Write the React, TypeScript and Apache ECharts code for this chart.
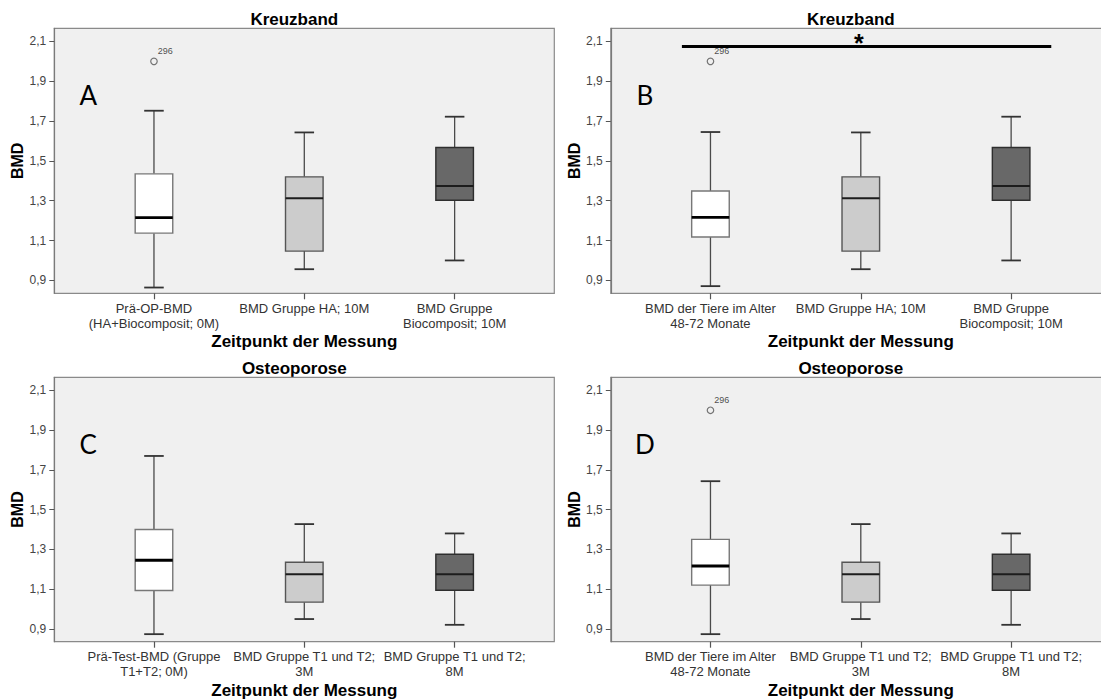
import React, { useEffect, useRef } from "react";
import * as echarts from "echarts";

// ---- data -------------------------------------------------------------
const categoriesA = ["Prä-OP-BMD\n(HA+Biocomposit; 0M)", "BMD Gruppe HA; 10M", "BMD Gruppe\nBiocomposit; 10M"];
const categoriesB = ["BMD der Tiere im Alter\n48-72 Monate", "BMD Gruppe HA; 10M", "BMD Gruppe\nBiocomposit; 10M"];
const categoriesC = ["Prä-Test-BMD (Gruppe\nT1+T2; 0M)", "BMD Gruppe T1 und T2;\n3M", "BMD Gruppe T1 und T2;\n8M"];
const categoriesD = ["BMD der Tiere im Alter\n48-72 Monate", "BMD Gruppe T1 und T2;\n3M", "BMD Gruppe T1 und T2;\n8M"];

// [lower whisker, Q1, median, Q3, upper whisker]
const boxesA = [
  [0.864, 1.137, 1.215, 1.435, 1.752],
  [0.956, 1.047, 1.312, 1.42, 1.643],
  [1.0, 1.302, 1.374, 1.567, 1.722],
];
const boxesB = [
  [0.871, 1.118, 1.216, 1.349, 1.645],
  [0.956, 1.047, 1.312, 1.42, 1.643],
  [1.0, 1.302, 1.374, 1.567, 1.722],
];
const boxesC = [
  [0.873, 1.093, 1.245, 1.4, 1.77],
  [0.949, 1.034, 1.175, 1.235, 1.427],
  [0.92, 1.094, 1.175, 1.275, 1.38],
];
const boxesD = [
  [0.873, 1.12, 1.216, 1.35, 1.643],
  [0.949, 1.034, 1.175, 1.235, 1.427],
  [0.92, 1.094, 1.175, 1.275, 1.38],
];

// [category index, value, case id]
const outliersA: [number, number, string][] = [[0, 2.0, "296"]];
const outliersB: [number, number, string][] = [[0, 2.0, "296"]];
const outliersC: [number, number, string][] = [];
const outliersD: [number, number, string][] = [[0, 2.0, "296"]];

const yTicks = [0.9, 1.1, 1.3, 1.5, 1.7, 1.9, 2.1];
const yMin = 0.835;
const yMax = 2.166;

// significance bracket in panel B: spans first to last group
const sigLevelB = 2.075;
const sigMarkB = "*";

const panelTitles = ["Kreuzband", "Kreuzband", "Osteoporose", "Osteoporose"];
const panelLetters = ["A", "B", "C", "D"];

// ---- layout & styles ---------------------------------------------------
const FONT = '"Liberation Sans", Arial, Helvetica, sans-serif';
const PANEL_W = 500;
const PAD = 24.5;
const COLS = [54.3, 610.8];
const ROWS = [
  { top: 28.3, h: 265 },
  { top: 377.3, h: 264.4 },
];
const boxFill = ["#ffffff", "#cccccc", "#686868"];
const boxStroke = ["#777777", "#555555", "#2e2e2e"];
const medianColor = ["#000000", "#1c1c1c", "#1c1c1c"];
const medianWidth = [2.8, 2, 2];
const whiskerColor = "#4a4a4a";

const panels = [
  { cats: categoriesA, boxes: boxesA, outliers: outliersA, col: 0, row: 0 },
  { cats: categoriesB, boxes: boxesB, outliers: outliersB, col: 1, row: 0 },
  { cats: categoriesC, boxes: boxesC, outliers: outliersC, col: 0, row: 1 },
  { cats: categoriesD, boxes: boxesD, outliers: outliersD, col: 1, row: 1 },
];

function renderBox(params: any, api: any) {
  const cat = api.value(0);
  const lo = api.coord([cat, api.value(1)]);
  const q1 = api.coord([cat, api.value(2)]);
  const med = api.coord([cat, api.value(3)]);
  const q3 = api.coord([cat, api.value(4)]);
  const hi = api.coord([cat, api.value(5)]);
  const band = api.size([1, 0])[0];
  const bw = band * 0.25;
  const cw = band * 0.13;
  const x = lo[0];
  const idx = cat as number;
  const wStyle = { stroke: whiskerColor, lineWidth: 1.3 };
  return {
    type: "group",
    children: [
      { type: "line", shape: { x1: x, y1: hi[1], x2: x, y2: q3[1] }, style: wStyle },
      { type: "line", shape: { x1: x, y1: q1[1], x2: x, y2: lo[1] }, style: wStyle },
      { type: "line", shape: { x1: x - cw / 2, y1: hi[1], x2: x + cw / 2, y2: hi[1] }, style: { stroke: "#333", lineWidth: 1.8 } },
      { type: "line", shape: { x1: x - cw / 2, y1: lo[1], x2: x + cw / 2, y2: lo[1] }, style: { stroke: "#333", lineWidth: 1.8 } },
      {
        type: "rect",
        shape: { x: x - bw / 2, y: q3[1], width: bw, height: q1[1] - q3[1] },
        style: { fill: boxFill[idx], stroke: boxStroke[idx], lineWidth: 1.4 },
      },
      {
        type: "line",
        shape: { x1: x - bw / 2, y1: med[1], x2: x + bw / 2, y2: med[1] },
        style: { stroke: medianColor[idx], lineWidth: medianWidth[idx] },
      },
    ],
  };
}

function renderSignificance(params: any, api: any) {
  const v = api.value(1);
  const c0 = api.coord([0, v]);
  const c1 = api.coord([1, v]);
  const c2 = api.coord([2, v]);
  const band = api.size([1, 0])[0];
  return {
    type: "group",
    children: [
      {
        type: "line",
        shape: { x1: c0[0] - band * 0.19, y1: c0[1], x2: c2[0] + band * 0.267, y2: c2[1] },
        style: { stroke: "#000", lineWidth: 3 },
      },
      {
        type: "text",
        x: c1[0] - 2,
        y: c1[1] - 3.5,
        style: {
          text: sigMarkB,
          font: `bold 25px ${FONT}`,
          fill: "#000",
          align: "center",
          verticalAlign: "middle",
          textAlign: "center",
          textVerticalAlign: "middle",
        },
      },
    ],
  };
}

export default function App() {
  const ref = useRef<HTMLDivElement>(null);

  useEffect(() => {
    if (!ref.current) return;
    const chart = echarts.init(ref.current, undefined, { renderer: "svg" });

    const grids: any[] = [];
    const xAxes: any[] = [];
    const yAxes: any[] = [];
    const series: any[] = [];
    const graphics: any[] = [];

    panels.forEach((p, i) => {
      const left = COLS[p.col];
      const row = ROWS[p.row];
      grids.push({ left: left + PAD, top: row.top, width: PANEL_W - 2 * PAD, height: row.h, containLabel: false });

      xAxes.push({
        gridIndex: i,
        type: "category",
        data: p.cats,
        boundaryGap: true,
        axisLine: { show: false },
        axisTick: { show: true, alignWithLabel: true, length: 6, lineStyle: { color: "#555", width: 1.2 } },
        axisLabel: { interval: 0, fontFamily: FONT, fontSize: 13, color: "#333", lineHeight: 14.5, margin: 8 },
        splitLine: { show: false },
        name: "Zeitpunkt der Messung",
        nameLocation: "middle",
        nameGap: 40,
        nameTextStyle: { fontFamily: FONT, fontSize: 17, fontWeight: "bold", color: "#000" },
      });

      yAxes.push({
        gridIndex: i,
        type: "value",
        min: yMin,
        max: yMax,
        offset: PAD,
        axisLine: { show: true, lineStyle: { color: "#7a7a7a", width: 1.2 } },
        axisTick: { show: true, length: 5, customValues: yTicks, lineStyle: { color: "#555", width: 1 } },
        axisLabel: {
          customValues: yTicks,
          fontFamily: FONT,
          fontSize: 12,
          color: "#444",
          margin: 8,
          formatter: (v: number) => v.toFixed(1).replace(".", ","),
        },
        splitLine: { show: false },
        name: "BMD",
        nameLocation: "middle",
        nameGap: 28,
        nameTextStyle: { fontFamily: FONT, fontSize: 16, fontWeight: "bold", color: "#000" },
      });

      series.push({
        type: "custom",
        xAxisIndex: i,
        yAxisIndex: i,
        renderItem: renderBox,
        encode: { x: 0, y: [1, 2, 3, 4, 5] },
        data: p.boxes.map((b, k) => [k, ...b]),
        z: 3,
      });

      if (p.outliers.length) {
        series.push({
          type: "scatter",
          xAxisIndex: i,
          yAxisIndex: i,
          symbol: "circle",
          symbolSize: 6.5,
          itemStyle: { color: "#f0f0f0", borderColor: "#555", borderWidth: 1.2 },
          label: {
            show: true,
            position: "right",
            distance: 0,
            offset: [0, -10.5],
            fontFamily: FONT,
            fontSize: 9,
            color: "#222",
            formatter: (prm: any) => prm.data[2],
          },
          data: p.outliers,
          z: 4,
        });
      }

      if (i === 1) {
        series.push({
          type: "custom",
          xAxisIndex: i,
          yAxisIndex: i,
          renderItem: renderSignificance,
          encode: { x: 0, y: 1 },
          data: [[1, sigLevelB]],
          z: 6,
        });
      }

      graphics.push({
        type: "rect",
        z: -10,
        shape: { x: left, y: row.top, width: PANEL_W, height: row.h },
        style: { fill: "#f0f0f0", stroke: "#8a8a8a", lineWidth: 1.2 },
      });
      graphics.push({
        type: "text",
        z: -20,
        x: left + 240,
        y: row.top - 8.8,
        style: {
          text: panelTitles[i],
          font: `bold 17px ${FONT}`,
          fill: "#000",
          align: "center",
          verticalAlign: "middle",
          textAlign: "center",
          textVerticalAlign: "middle",
        },
      });
      graphics.push({
        type: "text",
        z: 5,
        x: left + 34,
        y: row.top + 67,
        style: {
          text: panelLetters[i],
          font: `26px Lato, "Open Sans", sans-serif`,
          fill: "#000",
          align: "center",
          verticalAlign: "middle",
          textAlign: "center",
          textVerticalAlign: "middle",
        },
      });
    });

    chart.setOption({
      animation: false,
      backgroundColor: "#ffffff",
      grid: grids,
      xAxis: xAxes,
      yAxis: yAxes,
      series,
      graphic: graphics,
    });

    return () => chart.dispose();
  }, []);

  return <div ref={ref} style={{ position: "absolute", left: 0, top: 0, width: 1101, height: 700 }} />;
}
